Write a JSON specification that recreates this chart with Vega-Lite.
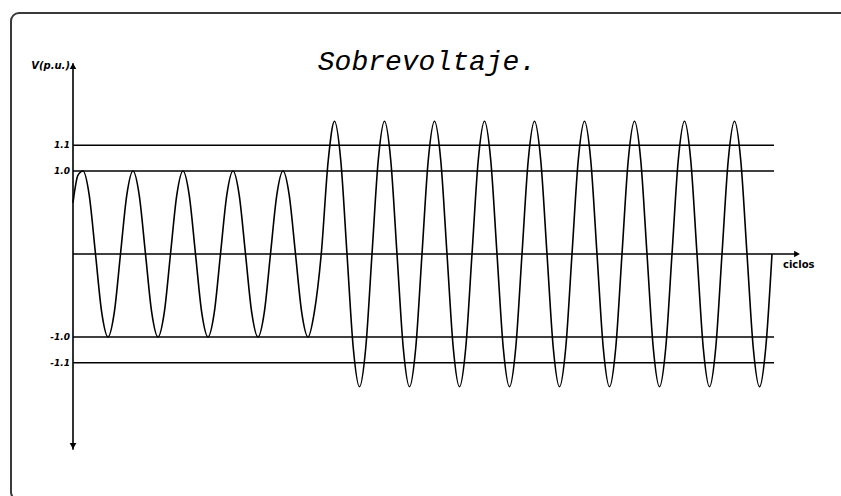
{
  "$schema": "https://vega.github.io/schema/vega-lite/v6.json",
  "width": 841,
  "height": 496,
  "autosize": {"type": "fit", "contains": "padding"},
  "padding": {"left": 11, "top": 13, "right": -20, "bottom": -4},
  "background": "white",
  "config": {"view": {"stroke": "#3a3a3a", "strokeWidth": 2, "cornerRadius": 8}},
  "datasets": {
    "wave": [
      {"t":0,"v":0.62},{"t":0.1,"v":0.95},{"t":0.2,"v":1},{"t":0.325,"v":0.707},{"t":0.45,"v":0},{"t":0.575,"v":-0.707},{"t":0.7,"v":-1},{"t":0.825,"v":-0.707},{"t":0.95,"v":0},
      {"t":1.075,"v":0.707},{"t":1.2,"v":1},{"t":1.325,"v":0.707},{"t":1.45,"v":0},{"t":1.575,"v":-0.707},{"t":1.7,"v":-1},{"t":1.825,"v":-0.707},{"t":1.95,"v":0},
      {"t":2.075,"v":0.707},{"t":2.2,"v":1},{"t":2.325,"v":0.707},{"t":2.45,"v":0},{"t":2.575,"v":-0.707},{"t":2.7,"v":-1},{"t":2.825,"v":-0.707},{"t":2.95,"v":0},
      {"t":3.075,"v":0.707},{"t":3.2,"v":1},{"t":3.325,"v":0.707},{"t":3.45,"v":0},{"t":3.575,"v":-0.707},{"t":3.7,"v":-1},{"t":3.825,"v":-0.707},{"t":3.95,"v":0},
      {"t":4.075,"v":0.707},{"t":4.2,"v":1},{"t":4.325,"v":0.707},{"t":4.45,"v":0},{"t":4.575,"v":-0.707},{"t":4.7,"v":-1},{"t":4.825,"v":-0.707},{"t":4.965,"v":0},
      {"t":5.105,"v":1.13},{"t":5.23,"v":1.6},{"t":5.355,"v":1.13},{"t":5.48,"v":0},{"t":5.605,"v":-1.13},{"t":5.73,"v":-1.6},{"t":5.855,"v":-1.13},{"t":5.98,"v":0},
      {"t":6.105,"v":1.13},{"t":6.23,"v":1.6},{"t":6.355,"v":1.13},{"t":6.48,"v":0},{"t":6.605,"v":-1.13},{"t":6.73,"v":-1.6},{"t":6.855,"v":-1.13},{"t":6.98,"v":0},
      {"t":7.105,"v":1.13},{"t":7.23,"v":1.6},{"t":7.355,"v":1.13},{"t":7.48,"v":0},{"t":7.605,"v":-1.13},{"t":7.73,"v":-1.6},{"t":7.855,"v":-1.13},{"t":7.98,"v":0},
      {"t":8.105,"v":1.13},{"t":8.23,"v":1.6},{"t":8.355,"v":1.13},{"t":8.48,"v":0},{"t":8.605,"v":-1.13},{"t":8.73,"v":-1.6},{"t":8.855,"v":-1.13},{"t":8.98,"v":0},
      {"t":9.105,"v":1.13},{"t":9.23,"v":1.6},{"t":9.355,"v":1.13},{"t":9.48,"v":0},{"t":9.605,"v":-1.13},{"t":9.73,"v":-1.6},{"t":9.855,"v":-1.13},{"t":9.98,"v":0},
      {"t":10.105,"v":1.13},{"t":10.23,"v":1.6},{"t":10.355,"v":1.13},{"t":10.48,"v":0},{"t":10.605,"v":-1.13},{"t":10.73,"v":-1.6},{"t":10.855,"v":-1.13},{"t":10.98,"v":0},
      {"t":11.105,"v":1.13},{"t":11.23,"v":1.6},{"t":11.355,"v":1.13},{"t":11.48,"v":0},{"t":11.605,"v":-1.13},{"t":11.73,"v":-1.6},{"t":11.855,"v":-1.13},{"t":11.98,"v":0},
      {"t":12.105,"v":1.13},{"t":12.23,"v":1.6},{"t":12.355,"v":1.13},{"t":12.48,"v":0},{"t":12.605,"v":-1.13},{"t":12.73,"v":-1.6},{"t":12.855,"v":-1.13},{"t":12.98,"v":0},
      {"t":13.105,"v":1.13},{"t":13.23,"v":1.6},{"t":13.355,"v":1.13},{"t":13.48,"v":0},{"t":13.605,"v":-1.13},{"t":13.73,"v":-1.6},{"t":13.855,"v":-1.13},{"t":13.98,"v":0}
    ],
    "hlines": [
      {"v": 1.31, "t0": 0, "t1": 14.02, "label": "1.1"},
      {"v": 1.0, "t0": 0, "t1": 14.02, "label": "1.0"},
      {"v": -1.0, "t0": 0, "t1": 14.02, "label": "-1.0"},
      {"v": -1.31, "t0": 0, "t1": 14.02, "label": "-1.1"},
      {"v": 0, "t0": 0, "t1": 14.45, "label": ""}
    ],
    "vaxis": [{"t": 0, "v0": -2.36, "v1": 2.3}],
    "arrows": [
      {"t": 0, "v": 2.265, "shape": "triangle-up"},
      {"t": 0, "v": -2.313, "shape": "triangle-down"},
      {"t": 14.48, "v": 0, "shape": "triangle-right"}
    ],
    "texts": [
      {"t": 7.08, "v": 2.22, "text": "Sobrevoltaje.", "kind": "title"},
      {"t": -0.06, "v": 2.27, "text": "V(p.u.)", "kind": "vlab"},
      {"t": 14.2, "v": -0.13, "text": "ciclos", "kind": "xlab"}
    ]
  },
  "layer": [
    {
      "data": {"name": "hlines"},
      "mark": {"type": "rule", "color": "black", "strokeWidth": 1.6},
      "encoding": {
        "x": {"field": "t0", "type": "quantitative", "scale": {"domain": [-1.24, 15.76], "nice": false, "zero": false}, "axis": null},
        "x2": {"field": "t1"},
        "y": {"field": "v", "type": "quantitative", "scale": {"domain": [-2.964, 2.904], "nice": false, "zero": false}, "axis": null}
      }
    },
    {
      "data": {"name": "vaxis"},
      "mark": {"type": "rule", "color": "black", "strokeWidth": 1.6},
      "encoding": {
        "x": {"field": "t", "type": "quantitative", "scale": {"domain": [-1.24, 15.76], "nice": false, "zero": false}, "axis": null},
        "y": {"field": "v0", "type": "quantitative", "scale": {"domain": [-2.964, 2.904], "nice": false, "zero": false}, "axis": null},
        "y2": {"field": "v1"}
      }
    },
    {
      "data": {"name": "wave"},
      "mark": {"type": "line", "color": "black", "strokeWidth": 1.6, "interpolate": "monotone"},
      "encoding": {
        "x": {"field": "t", "type": "quantitative", "scale": {"domain": [-1.24, 15.76], "nice": false, "zero": false}, "axis": null},
        "y": {"field": "v", "type": "quantitative", "scale": {"domain": [-2.964, 2.904], "nice": false, "zero": false}, "axis": null}
      }
    },
    {
      "data": {"name": "arrows"},
      "mark": {"type": "point", "filled": true, "color": "black", "size": 45, "opacity": 1},
      "encoding": {
        "x": {"field": "t", "type": "quantitative", "scale": {"domain": [-1.24, 15.76], "nice": false, "zero": false}, "axis": null},
        "y": {"field": "v", "type": "quantitative", "scale": {"domain": [-2.964, 2.904], "nice": false, "zero": false}, "axis": null},
        "shape": {"field": "shape", "type": "nominal", "scale": null, "legend": null}
      }
    },
    {
      "data": {"name": "hlines"},
      "mark": {"type": "text", "align": "right", "baseline": "middle", "dx": -3, "font": "DejaVu Sans", "fontStyle": "italic", "fontWeight": "bold", "fontSize": 9, "color": "black"},
      "encoding": {
        "x": {"field": "t0", "type": "quantitative", "scale": {"domain": [-1.24, 15.76], "nice": false, "zero": false}, "axis": null},
        "y": {"field": "v", "type": "quantitative", "scale": {"domain": [-2.964, 2.904], "nice": false, "zero": false}, "axis": null},
        "text": {"field": "label"}
      }
    },
    {
      "data": {"name": "texts"},
      "transform": [{"filter": "datum.kind === 'title'"}],
      "mark": {"type": "text", "align": "center", "baseline": "alphabetic", "font": "Liberation Mono", "fontStyle": "italic", "fontSize": 28, "color": "black"},
      "encoding": {
        "x": {"field": "t", "type": "quantitative", "scale": {"domain": [-1.24, 15.76], "nice": false, "zero": false}, "axis": null},
        "y": {"field": "v", "type": "quantitative", "scale": {"domain": [-2.964, 2.904], "nice": false, "zero": false}, "axis": null},
        "text": {"field": "text"}
      }
    },
    {
      "data": {"name": "texts"},
      "transform": [{"filter": "datum.kind === 'vlab'"}],
      "mark": {"type": "text", "align": "right", "baseline": "middle", "font": "DejaVu Sans", "fontStyle": "italic", "fontWeight": "bold", "fontSize": 10, "color": "black"},
      "encoding": {
        "x": {"field": "t", "type": "quantitative", "scale": {"domain": [-1.24, 15.76], "nice": false, "zero": false}, "axis": null},
        "y": {"field": "v", "type": "quantitative", "scale": {"domain": [-2.964, 2.904], "nice": false, "zero": false}, "axis": null},
        "text": {"field": "text"}
      }
    },
    {
      "data": {"name": "texts"},
      "transform": [{"filter": "datum.kind === 'xlab'"}],
      "mark": {"type": "text", "align": "left", "baseline": "middle", "font": "DejaVu Sans", "fontWeight": "bold", "fontSize": 10, "color": "black"},
      "encoding": {
        "x": {"field": "t", "type": "quantitative", "scale": {"domain": [-1.24, 15.76], "nice": false, "zero": false}, "axis": null},
        "y": {"field": "v", "type": "quantitative", "scale": {"domain": [-2.964, 2.904], "nice": false, "zero": false}, "axis": null},
        "text": {"field": "text"}
      }
    }
  ]
}
